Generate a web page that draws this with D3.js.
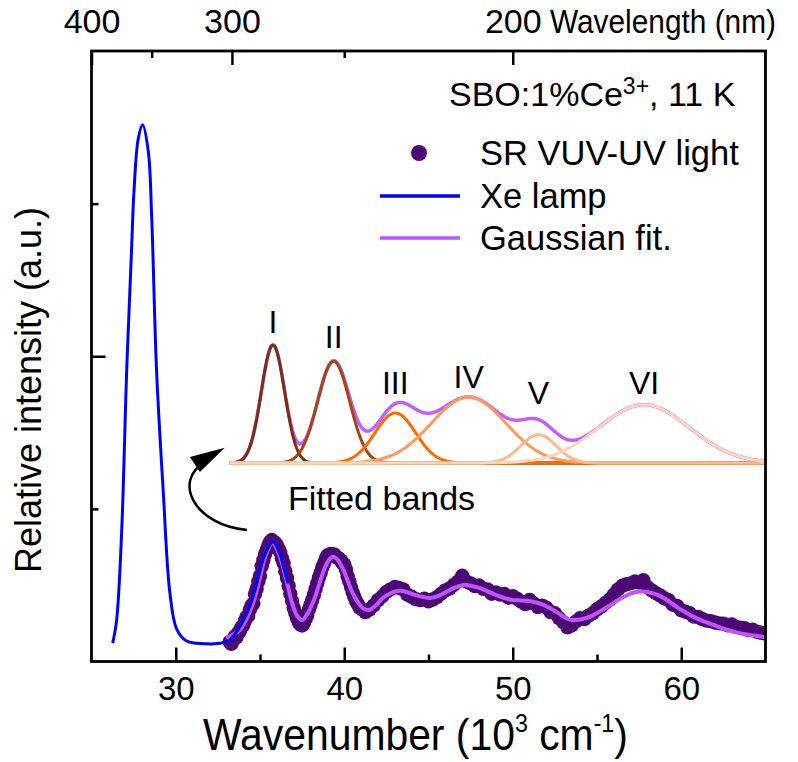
<!DOCTYPE html>
<html>
<head>
<meta charset="utf-8">
<script src="https://cdn.jsdelivr.net/npm/d3@7"></script>
<style>
  body { margin: 0; background: #fff; }
  svg text { font-family: "Liberation Sans", Arial, Helvetica, sans-serif; fill: #000; }
</style>
</head>
<body>
<svg id="chart" width="798" height="762"></svg>
<script>
// ---- Xe lamp excitation spectrum (wavenumber in 10^3 cm^-1, relative intensity)
const xenonWavenumber = [26.26, 26.49, 26.79, 27.09, 27.38, 27.52, 27.77, 28.03, 28.37, 28.57, 28.86, 29.26, 29.65, 30.05, 30.64, 31.24, 31.8, 32.3, 32.63, 33.2, 33.8, 34.2, 34.59, 35.18, 35.5, 35.78, 36.17, 36.4, 36.67];
const xenonIntensity  = [0.06, 0.134, 0.425, 0.955, 1.353, 1.539, 1.711, 1.758, 1.671, 1.46, 0.955, 0.555, 0.226, 0.107, 0.067, 0.06, 0.058, 0.058, 0.06, 0.07, 0.114, 0.155, 0.212, 0.333, 0.375, 0.392, 0.354, 0.31, 0.256];

// ---- Gaussian fit of the synchrotron spectrum
const fitWavenumber = [33.0, 33.4, 33.8, 34.2, 34.6, 35.0, 35.2, 35.5, 35.7, 35.9, 36.1, 36.3, 36.6, 36.9, 37.2, 37.5, 37.8, 38.2, 38.5, 38.8, 39.1, 39.35, 39.65, 39.95, 40.2, 40.5, 40.8, 41.1, 41.5, 41.9, 42.3, 42.8, 43.3, 43.8, 44.2, 44.7, 45.1, 45.6, 46.1, 46.6, 47.1, 47.5, 48.0, 48.5, 49.0, 49.5, 50.0, 50.5, 51.2, 51.7, 52.2, 52.8, 53.2, 53.5, 53.9, 54.2, 54.6, 55.2, 55.8, 56.3, 56.8, 57.2, 57.7, 58.1, 58.6, 59.1, 59.7, 60.2, 60.7, 61.3, 61.9, 62.5, 63.1, 63.7, 64.3, 65.0];
const fitIntensity  = [0.077, 0.088, 0.103, 0.14, 0.192, 0.275, 0.323, 0.37, 0.387, 0.38, 0.355, 0.323, 0.26, 0.192, 0.15, 0.136, 0.155, 0.201, 0.25, 0.30, 0.333, 0.343, 0.33, 0.30, 0.265, 0.224, 0.195, 0.175, 0.169, 0.185, 0.208, 0.225, 0.232, 0.226, 0.218, 0.211, 0.208, 0.215, 0.229, 0.243, 0.251, 0.248, 0.241, 0.23, 0.218, 0.208, 0.201, 0.2, 0.196, 0.188, 0.175, 0.155, 0.141, 0.136, 0.137, 0.14, 0.147, 0.165, 0.185, 0.203, 0.218, 0.226, 0.229, 0.226, 0.218, 0.203, 0.18, 0.163, 0.147, 0.132, 0.12, 0.108, 0.098, 0.09, 0.085, 0.08];

// ---- SR VUV-UV excitation data points [wavenumber, intensity]
const srPoints = [
  [33.2,0.064],[33.3,0.058],[33.4,0.070],[33.5,0.082],[33.6,0.079],[33.7,0.094],[33.8,0.098],[33.9,0.112],
  [34.0,0.118],[34.1,0.133],[34.2,0.146],[34.3,0.149],[34.4,0.170],[34.5,0.183],[34.6,0.190],[34.7,0.221],
  [34.8,0.238],[34.9,0.262],[35.0,0.281],[35.1,0.312],[35.2,0.331],[35.3,0.352],[35.4,0.366],[35.5,0.381],
  [35.6,0.392],[35.7,0.398],[35.8,0.392],[35.9,0.389],[36.0,0.381],[36.1,0.370],[36.2,0.358],[36.3,0.338],
  [36.4,0.322],[36.5,0.296],[36.6,0.274],[36.7,0.248],[36.8,0.222],[36.9,0.199],[37.0,0.176],[37.1,0.158],
  [37.2,0.141],[37.3,0.128],[37.4,0.121],[37.5,0.118],[37.6,0.126],[37.7,0.139],[37.8,0.151],[37.9,0.170],
  [38.0,0.186],[38.1,0.202],[38.2,0.219],[38.3,0.238],[38.4,0.256],[38.5,0.275],[38.6,0.291],[38.7,0.309],
  [38.8,0.322],[38.9,0.336],[39.0,0.347],[39.1,0.350],[39.2,0.352],[39.3,0.348],[39.4,0.351],[39.5,0.343],
  [39.6,0.340],[39.7,0.336],[39.8,0.331],[39.9,0.322],[40.0,0.318],[40.1,0.301],[40.2,0.279],[40.3,0.262],
  [40.4,0.244],[40.5,0.226],[40.6,0.212],[40.7,0.198],[40.8,0.189],[40.9,0.178],[41.0,0.172],
  [41.25,0.162],[41.5,0.170],[41.75,0.184],[42.0,0.201],[42.25,0.213],[42.5,0.228],[42.75,0.236],[43.0,0.244],
  [43.25,0.241],[43.5,0.236],[43.75,0.219],[44.0,0.212],[44.25,0.204],[44.5,0.201],[44.75,0.206],[45.0,0.197],
  [45.25,0.203],[45.5,0.211],[45.75,0.222],[46.0,0.233],[46.25,0.239],[46.5,0.251],[46.75,0.262],[47.0,0.281],
  [47.25,0.262],[47.5,0.256],[47.75,0.247],[48.0,0.249],[48.25,0.238],[48.5,0.236],[48.75,0.222],[49.0,0.226],
  [49.25,0.219],[49.5,0.221],[49.75,0.209],[50.0,0.214],[50.25,0.206],[50.5,0.196],[50.75,0.188],[51.0,0.202],
  [51.25,0.190],[51.5,0.178],[51.75,0.183],[52.0,0.176],[52.25,0.162],[52.5,0.158],[52.75,0.142],[53.0,0.129],
  [53.25,0.112],[53.5,0.118],[53.75,0.131],[54.0,0.142],[54.25,0.139],[54.5,0.150],[54.75,0.158],[55.0,0.171],
  [55.25,0.180],[55.5,0.192],[55.75,0.203],[56.0,0.219],[56.25,0.236],[56.5,0.248],[56.75,0.253],[57.0,0.256],
  [57.25,0.262],[57.5,0.259],[57.75,0.266],[58.0,0.243],[58.25,0.233],[58.5,0.224],[58.75,0.216],[59.0,0.207],
  [59.25,0.201],[59.5,0.186],[59.75,0.182],[60.0,0.168],[60.25,0.163],[60.5,0.158],[60.75,0.147],[61.0,0.146],
  [61.25,0.139],[61.5,0.134],[61.75,0.132],[62.0,0.128],[62.25,0.125],[62.5,0.124],[62.75,0.119],[63.0,0.121],
  [63.25,0.113],[63.5,0.111],[63.75,0.109],[64.0,0.103],[64.25,0.104],[64.5,0.097],[64.75,0.094],[65.0,0.092]
];

// ---- Fitted Gaussian bands (centre and width in 10^3 cm^-1, height relative to band I)
const bandNames   = ["I", "II", "III", "IV", "V", "VI"];
const bandCenters = [35.77, 39.37, 43.03, 47.38, 51.53, 57.79];
const bandSigmas  = [0.69, 0.95, 1.2, 2.2, 1.05, 2.7];
const bandHeights = [1.0, 0.862, 0.424, 0.559, 0.24, 0.494];
const bandColors  = ["#7a300c", "#a4460f", "#ff6a00", "#ff9a5c", "#ffb98c", "#ffd6bc"];
const bandLabelLift = [12, 13, 10, 9, 16, 11];

// ---- Axis ticks
const xMajorTicks = [30, 40, 50, 60];
const xMinorTicks = [35, 45, 55];
const nmMajorTicks = [400, 300, 200];
const nmMinorTicks = [350, 250];
const yMajorTicks = [1];
const yMinorTicks = [0.5, 1.5];

const svg = d3.select("#chart");
const frameLeft = 91.5, frameRight = 765.5, frameTop = 51, frameBottom = 661.5;

const x = d3.scaleLinear().domain([25, 65]).range([frameLeft, frameRight]);
const y = d3.scaleLinear().domain([0, 2]).range([frameBottom, frameTop]);
const yInset = d3.scaleLinear().domain([0, 1]).range([463, 345]);
const nmToWavenumber = nm => 1e4 / nm;

svg.append("defs").append("clipPath").attr("id", "plot-clip")
  .append("rect").attr("x", frameLeft).attr("y", frameTop)
  .attr("width", frameRight - frameLeft).attr("height", frameBottom - frameTop);

// ---- Inset: fitted bands and their sum
const bandDomain = [33.2, 65];
const sampleX = d3.range(bandDomain[0], bandDomain[1] + 1e-9, 0.04);
const gauss = (v, i) => bandHeights[i] * Math.exp(-0.5 * Math.pow((v - bandCenters[i]) / bandSigmas[i], 2));
const sumAt = v => d3.sum(bandNames, (_, i) => gauss(v, i));

const insetLine = d3.line().x(d => x(d[0])).y(d => yInset(d[1]));
const inset = svg.append("g");
inset.append("path")
  .datum(sampleX.map(v => [v, sumAt(v)]))
  .attr("d", insetLine).attr("fill", "none")
  .attr("stroke", "#c060ff").attr("stroke-width", 3.5);
bandNames.forEach((name, i) => {
  inset.append("path")
    .datum(sampleX.map(v => [v, gauss(v, i)]))
    .attr("d", insetLine).attr("fill", "none")
    .attr("stroke", bandColors[i]).attr("stroke-width", 3)
    .attr("stroke-linejoin", "round");
});
inset.selectAll("text.band").data(bandNames).join("text")
  .attr("class", "band")
  .attr("x", (d, i) => x(bandCenters[i]))
  .attr("y", (d, i) => yInset(sumAt(bandCenters[i])) - bandLabelLift[i])
  .attr("text-anchor", "middle").attr("font-size", 32)
  .text(d => d);

// ---- Arrow from the main spectrum to the inset
const arrowPath = d3.path();
arrowPath.moveTo(x(34.22), y(0.431));
arrowPath.bezierCurveTo(x(31.14), y(0.447), x(29.77), y(0.588), x(31.73), y(0.654));
svg.append("path").attr("d", arrowPath.toString())
  .attr("fill", "none").attr("stroke", "#000").attr("stroke-width", 2.5);
svg.append("path")
  .attr("d", d3.line()([[x(32.91), y(0.700)], [x(30.84), y(0.670)], [x(31.43), y(0.621)]]) + "Z")
  .attr("fill", "#000");
svg.append("text").attr("x", 288).attr("y", 510).attr("font-size", 34).text("Fitted bands");

// ---- Main spectra
const plot = svg.append("g").attr("clip-path", "url(#plot-clip)");
plot.selectAll("circle.sr").data(srPoints).join("circle")
  .attr("class", "sr")
  .attr("cx", d => x(d[0])).attr("cy", d => y(d[1])).attr("r", 7.2)
  .attr("fill", "#4b0873");

const spectrumLine = d3.line().x(d => x(d[0])).y(d => y(d[1])).curve(d3.curveCatmullRom.alpha(0.5));
plot.append("path")
  .datum(fitWavenumber.map((v, i) => [v, fitIntensity[i]]))
  .attr("d", spectrumLine).attr("fill", "none")
  .attr("stroke", "#be55ff").attr("stroke-width", 4);
plot.append("path")
  .datum(xenonWavenumber.map((v, i) => [v, xenonIntensity[i]]))
  .attr("d", spectrumLine).attr("fill", "none")
  .attr("stroke", "#0000ff").attr("stroke-width", 3).attr("stroke-linejoin", "round");

// ---- Axes
function styleAxis(g, size) {
  g.select(".domain").remove();
  g.selectAll(".tick line").attr("stroke", "#000").attr("stroke-width", 2.5);
  g.selectAll(".tick text").attr("font-size", size || 33).attr("fill", "#000")
    .attr("font-family", "'Liberation Sans', Arial, sans-serif");
}
svg.append("g").attr("transform", `translate(0,${frameBottom})`)
  .call(d3.axisBottom(x).tickValues(xMajorTicks).tickSize(-14).tickPadding(15.5).tickFormat(d3.format("d")))
  .call(styleAxis, 33);
svg.append("g").attr("transform", `translate(0,${frameBottom})`)
  .call(d3.axisBottom(x).tickValues(xMinorTicks).tickSize(-7).tickFormat(""))
  .call(styleAxis);
svg.append("g").attr("transform", `translate(0,${frameTop})`)
  .call(d3.axisTop(x).tickValues(nmMajorTicks.map(nmToWavenumber)).tickSize(-14).tickPadding(18)
    .tickFormat(v => d3.format("d")(Math.round(1e4 / v))))
  .call(styleAxis, 34);
svg.append("g").attr("transform", `translate(0,${frameTop})`)
  .call(d3.axisTop(x).tickValues(nmMinorTicks.map(nmToWavenumber)).tickSize(-7).tickFormat(""))
  .call(styleAxis);
svg.append("g").attr("transform", `translate(${frameLeft},0)`)
  .call(d3.axisLeft(y).tickValues(yMajorTicks).tickSize(-14).tickFormat(""))
  .call(styleAxis);
svg.append("g").attr("transform", `translate(${frameLeft},0)`)
  .call(d3.axisLeft(y).tickValues(yMinorTicks).tickSize(-7).tickFormat(""))
  .call(styleAxis);

svg.append("rect").attr("x", frameLeft).attr("y", frameTop)
  .attr("width", frameRight - frameLeft).attr("height", frameBottom - frameTop)
  .attr("fill", "none").attr("stroke", "#000").attr("stroke-width", 2.8);

// ---- Axis titles (narrowed horizontally to the set widths)
function narrowTo(textSel, x0, y0, width) {
  const natural = textSel.node().getComputedTextLength();
  textSel.attr("transform", `translate(${x0},${y0}) scale(${width / natural},1)`);
}
const xTitle = svg.append("text").attr("font-size", 44);
xTitle.append("tspan").text("Wavenumber (10");
xTitle.append("tspan").attr("font-size", 25).attr("dy", -18).text("3");
xTitle.append("tspan").attr("dy", 18).text(" cm");
xTitle.append("tspan").attr("font-size", 25).attr("dy", -18).text("-1");
xTitle.append("tspan").attr("dy", 18).text(")");
narrowTo(xTitle, 203, 750, 425);

const topTitle = svg.append("text").attr("font-size", 34).text("Wavelength (nm)");
narrowTo(topTitle, 550, 33, 226);

svg.append("text")
  .attr("transform", "translate(41,390) rotate(-90)")
  .attr("text-anchor", "middle").attr("font-size", 36)
  .text("Relative intensity (a.u.)");

// ---- Sample label and legend
const sample = svg.append("text").attr("x", 449).attr("y", 106).attr("font-size", 34);
sample.append("tspan").text("SBO:1%Ce");
sample.append("tspan").attr("font-size", 23).attr("dy", -12).text("3+");
sample.append("tspan").attr("dy", 12).text(", 11 K");

const legendItems = [
  { label: "SR VUV-UV light", kind: "point", color: "#4b0873", y: 153 },
  { label: "Xe lamp", kind: "line", color: "#0000ff", y: 196 },
  { label: "Gaussian fit.", kind: "line", color: "#be55ff", y: 238 }
];
const legend = svg.append("g");
legendItems.forEach(item => {
  if (item.kind === "point") {
    legend.append("circle").attr("cx", 419).attr("cy", item.y).attr("r", 8).attr("fill", item.color);
  } else {
    legend.append("line").attr("x1", 380).attr("x2", 460).attr("y1", item.y).attr("y2", item.y)
      .attr("stroke", item.color).attr("stroke-width", 3.5);
  }
  legend.append("text").attr("x", 480).attr("y", item.y + 11.5).attr("font-size", 34.5).text(item.label);
});
</script>
</body>
</html>
